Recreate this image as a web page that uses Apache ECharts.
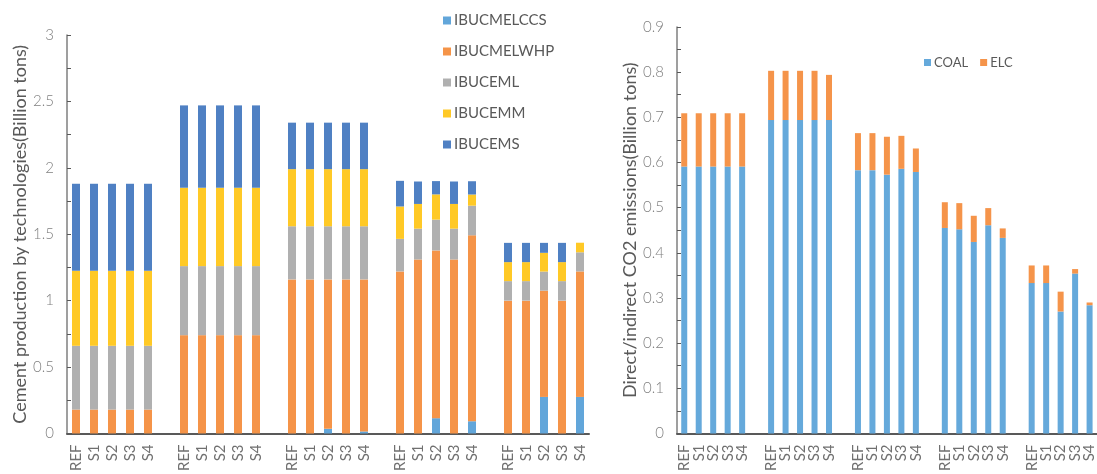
<!DOCTYPE html>
<html>
<head>
<meta charset="utf-8">
<script src="https://cdn.jsdelivr.net/npm/echarts@6/dist/echarts.min.js"></script>
<style>
  html, body { margin: 0; padding: 0; background: #fff; }
  #chart { width: 1097px; height: 474px; }
</style>
</head>
<body>
<div id="chart"></div>
<script>
// Scenario labels repeated in each of the five groups
const scenarios = ['REF', 'S1', 'S2', 'S3', 'S4'];
const groupCount = 5;

// Cement production by technology (billion tons), 5 groups x 5 scenarios
const ibucmelccs = [0, 0, 0, 0, 0,   0, 0, 0, 0, 0,   0, 0, 0.035, 0, 0.015,   0, 0, 0.115, 0, 0.092,   0, 0, 0.275, 0, 0.275];
const ibucmelwhp = [0.18, 0.18, 0.18, 0.18, 0.18,   0.74, 0.74, 0.74, 0.74, 0.74,   1.16, 1.16, 1.125, 1.16, 1.145,   1.22, 1.31, 1.263, 1.31, 1.40,   1.0, 1.0, 0.80, 1.0, 0.945];
const ibuceml    = [0.48, 0.48, 0.48, 0.48, 0.48,   0.52, 0.52, 0.52, 0.52, 0.52,   0.40, 0.40, 0.40, 0.40, 0.40,   0.245, 0.232, 0.232, 0.232, 0.223,   0.147, 0.147, 0.144, 0.147, 0.144];
const ibucemm    = [0.565, 0.565, 0.565, 0.565, 0.565,   0.59, 0.59, 0.59, 0.59, 0.59,   0.43, 0.43, 0.43, 0.43, 0.43,   0.244, 0.186, 0.19, 0.186, 0.084,   0.143, 0.143, 0.141, 0.143, 0.072];
const ibucems    = [0.655, 0.655, 0.655, 0.655, 0.655,   0.62, 0.62, 0.62, 0.62, 0.62,   0.35, 0.35, 0.35, 0.35, 0.35,   0.193, 0.169, 0.10, 0.169, 0.10,   0.145, 0.145, 0.075, 0.145, 0];

// Direct/indirect CO2 emissions (billion tons)
const coal = [0.591, 0.591, 0.591, 0.591, 0.591,   0.694, 0.694, 0.694, 0.694, 0.694,   0.583, 0.583, 0.573, 0.586, 0.579,   0.455, 0.452, 0.424, 0.461, 0.433,   0.333, 0.333, 0.270, 0.354, 0.284];
const elc  = [0.118, 0.118, 0.118, 0.118, 0.118,   0.109, 0.109, 0.109, 0.109, 0.100,   0.082, 0.082, 0.084, 0.073, 0.052,   0.057, 0.058, 0.058, 0.038, 0.021,   0.039, 0.039, 0.044, 0.010, 0.006];

// Insert an empty slot between groups so that the groups stand apart
function withGaps(values, filler) {
  const out = [];
  for (let g = 0; g < groupCount; g++) {
    out.push(...values.slice(g * scenarios.length, (g + 1) * scenarios.length));
    if (g < groupCount - 1) out.push(filler);
  }
  return out;
}
const categories = withGaps(Array.from({ length: groupCount }, () => scenarios).flat(), '');

const FONT = 'Lato';
const labelColor = '#808080';
const titleColor = '#595959';

function xAxisFor(gridIndex) {
  return {
    type: 'category', gridIndex, data: categories,
    axisLine: { lineStyle: { color: '#595959', width: 2 } },
    axisTick: { show: false },
    axisLabel: { interval: 0, rotate: 90, color: '#707070', fontFamily: FONT, fontSize: 15, margin: 11 }
  };
}
function yAxisFor(gridIndex, max, interval, name, nameGap) {
  return {
    type: 'value', gridIndex, min: 0, max, interval,
    name, nameLocation: 'middle', nameGap,
    nameTextStyle: { color: titleColor, fontFamily: FONT, fontSize: 18 },
    axisLine: { show: true, lineStyle: { color: '#7f7f7f', width: 1.5 } },
    axisTick: { show: true, inside: true, length: 4, lineStyle: { color: '#595959' } },
    minorTick: { show: true, splitNumber: 2, length: 4, lineStyle: { color: '#595959' } },
    splitLine: { show: false },
    axisLabel: { color: labelColor, fontFamily: FONT, fontWeight: 300, fontSize: 15, margin: 13 }
  };
}
function barSeries(name, values, color, xi, yi, stack, width) {
  return {
    name, type: 'bar', stack, xAxisIndex: xi, yAxisIndex: yi,
    barWidth: width, data: withGaps(values, null),
    itemStyle: { color }, emphasis: { disabled: true }
  };
}

const chart = echarts.init(document.getElementById('chart'), null, { renderer: 'canvas' });
chart.setOption({
  animation: false,
  backgroundColor: '#ffffff',
  grid: [
    { left: 67, top: 35, width: 522, height: 402 },
    { left: 677, top: 27, width: 425, height: 410 }
  ],
  legend: [
    {
      orient: 'vertical', left: 438, top: 8, itemGap: 16,
      itemWidth: 8, itemHeight: 8, icon: 'rect',
      textStyle: { color: titleColor, fontFamily: FONT, fontSize: 15, padding: [0, 0, 0, -2] },
      data: ['IBUCMELCCS', 'IBUCMELWHP', 'IBUCEML', 'IBUCEMM', 'IBUCEMS']
    },
    {
      orient: 'horizontal', left: 919, top: 51, itemGap: 12,
      itemWidth: 7, itemHeight: 7, icon: 'rect',
      textStyle: { color: titleColor, fontFamily: FONT, fontSize: 13, padding: [0, 0, 0, -2] },
      data: ['COAL', 'ELC']
    }
  ],
  xAxis: [xAxisFor(0), xAxisFor(1)],
  yAxis: [
    yAxisFor(0, 3, 0.5, 'Cement production by technologies(Billion tons)', 38),
    yAxisFor(1, 0.9, 0.1, 'Direct/indirect CO2 emissions(Billion tons)', 30)
  ],
  series: [
    barSeries('IBUCMELCCS', ibucmelccs, '#62a6da', 0, 0, 'cement', 8),
    barSeries('IBUCMELWHP', ibucmelwhp, '#f59448', 0, 0, 'cement', 8),
    barSeries('IBUCEML', ibuceml, '#b0b0b0', 0, 0, 'cement', 8),
    barSeries('IBUCEMM', ibucemm, '#ffc926', 0, 0, 'cement', 8),
    barSeries('IBUCEMS', ibucems, '#4f80c3', 0, 0, 'cement', 8),
    barSeries('COAL', coal, '#65a9db', 1, 1, 'co2', 6),
    barSeries('ELC', elc, '#f5944a', 1, 1, 'co2', 6)
  ]
});
</script>
</body>
</html>
